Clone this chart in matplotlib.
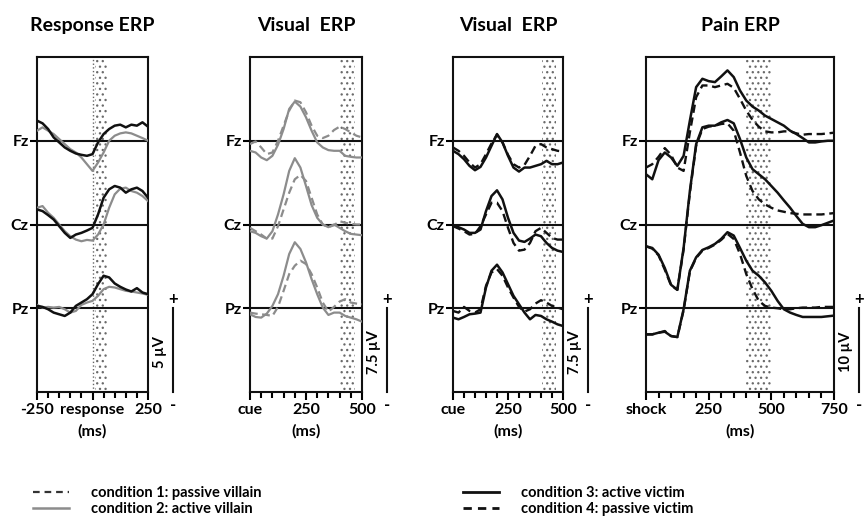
import matplotlib

matplotlib.use("Agg")
import matplotlib.pyplot as plt
import matplotlib.transforms as mtransforms
from matplotlib.lines import Line2D
from matplotlib.ticker import MultipleLocator

plt.rcParams["font.family"] = ["Lato", "DejaVu Sans"]
plt.rcParams["font.weight"] = "bold"
plt.rcParams["hatch.linewidth"] = 0.9

# ---- time axes (ms) ----
t_resp = list(range(-250, 251, 25))
t_vis = list(range(0, 501, 25))
t_pain = list(range(0, 751, 25))

# ---- panel 1: response ERP (uV) ----
resp_fz_black = [1.2, 1.04, 0.7, 0.2, -0.1, -0.4, -0.6, -0.76, -0.84, -0.9, -0.8,
                 -0.1, 0.4, 0.7, 0.9, 0.96, 0.8, 0.96, 0.9, 1.1, 0.84]
resp_fz_gray = [0.6, 0.8, 0.6, 0.4, 0.1, -0.2, -0.5, -0.7, -1.0, -1.4, -1.8,
                -1.3, -0.7, 0.0, 0.3, 0.44, 0.5, 0.44, 0.3, 0.16, 0.0]
resp_cz_black = [0.9, 0.8, 0.56, 0.3, -0.1, -0.5, -0.8, -0.6, -0.5, -0.36, -0.2,
                 0.6, 1.6, 2.1, 2.3, 2.2, 1.9, 2.1, 2.2, 2.0, 1.6]
resp_cz_gray = [1.0, 1.1, 0.7, 0.4, 0.0, -0.4, -0.7, -0.9, -1.0, -0.92, -0.96,
                -0.6, 0.0, 1.0, 1.8, 2.14, 2.2, 2.0, 1.9, 1.7, 1.4]
resp_pz_black = [0.14, 0.08, -0.06, -0.26, -0.36, -0.46, -0.26, 0.14, 0.34, 0.54, 0.84,
                 1.44, 1.94, 1.84, 1.48, 1.28, 1.12, 1.0, 1.2, 0.94, 0.84]
resp_pz_gray = [0.2, 0.04, 0.08, 0.04, 0.08, -0.06, -0.26, -0.16, 0.2, 0.34, 0.44,
                0.74, 1.14, 1.28, 1.24, 1.14, 1.04, 1.0, 0.94, 0.88, 0.8]

# ---- panel 2: visual ERP, villain conditions (uV) ----
vis1_fz_solid = [-0.9, -1.05, -1.5, -1.74, -1.35, -0.36, 1.05, 2.85, 3.51, 3.06, 2.1,
                 0.9, -0.15, -0.6, -0.84, -0.9, -0.9, -1.35, -1.44, -1.5, -1.5]
vis1_fz_dash = [-0.3, -0.06, -0.6, -1.2, -1.05, 0.0, 1.35, 2.7, 3.6, 3.45, 2.55,
                1.35, 0.45, 0.24, 0.45, 0.96, 1.26, 1.05, 0.75, 0.45, 0.3]
vis1_cz_solid = [-0.6, -0.75, -1.05, -1.26, -0.6, 0.9, 2.7, 4.8, 5.94, 5.1, 3.45,
                 1.74, 0.6, 0.0, -0.24, 0.0, -0.3, -0.6, -0.84, -0.9, -0.96]
vis1_cz_dash = [-0.3, -0.6, -0.9, -1.26, -1.26, -0.15, 1.35, 2.85, 4.05, 4.44, 3.9,
                2.4, 0.9, 0.0, -0.24, -0.06, 0.3, 0.15, 0.06, 0.0, 0.0]
vis1_pz_solid = [-0.54, -0.78, -0.84, -0.48, 0.21, 1.26, 2.91, 4.86, 5.91, 5.31, 4.11,
                 2.61, 1.26, 0.06, -0.6, -0.39, -0.39, -0.69, -0.84, -0.99, -1.2]
vis1_pz_dash = [-0.39, -0.48, -0.54, -0.6, -0.69, 0.12, 1.56, 3.06, 3.81, 4.26, 3.96,
                3.06, 1.86, 0.51, -0.3, 0.12, 0.6, 0.81, 0.51, 0.42, 0.36]

# ---- panel 3: visual ERP, victim conditions (uV) ----
vis2_fz_solid = [-0.9, -1.2, -1.65, -2.25, -2.64, -2.34, -1.5, -0.45, 0.6, -0.15, -1.35,
                 -2.4, -2.76, -2.4, -2.4, -2.25, -2.1, -1.8, -2.1, -2.1, -1.95]
vis2_fz_dash = [-0.6, -0.9, -1.35, -1.95, -2.4, -2.1, -1.2, -0.24, 0.54, -0.15, -1.26,
                -2.1, -2.4, -2.16, -1.35, -0.45, -0.3, -0.6, -0.75, -0.9, -0.96]
vis2_cz_solid = [-0.15, -0.24, -0.45, -0.75, -0.75, -0.45, 1.2, 2.55, 3.06, 2.25, 0.6,
                 -0.75, -1.44, -1.56, -1.26, -0.9, -1.05, -1.65, -2.1, -2.34, -2.46]
vis2_cz_dash = [-0.15, -0.36, -0.6, -0.9, -0.84, -0.15, 0.9, 1.95, 1.95, 1.2, -0.3,
                -1.65, -2.34, -2.25, -1.65, -0.6, -0.3, -0.75, -1.2, -1.35, -1.35]
vis2_pz_solid = [-0.84, -0.99, -0.78, -0.54, -0.48, -0.39, 1.86, 3.36, 3.9, 3.21, 2.16,
                 1.11, 0.36, -0.39, -0.99, -0.6, -0.69, -0.99, -1.2, -1.44, -1.59]
vis2_pz_dash = [-0.24, -0.39, 0.12, -0.24, -0.39, -0.09, 2.01, 3.21, 3.51, 2.91, 1.86,
                0.96, 0.12, -0.3, -0.09, 0.42, 0.72, 0.51, 0.21, 0.06, -0.09]

# ---- panel 4: pain ERP (uV) ----
pain_fz_solid = [-4.0, -4.6, -2.32, -1.4, -2.0, -3.0, -1.8, 2.4, 6.4, 7.4, 7.12, 7.0,
                 7.68, 8.4, 7.6, 6.0, 4.8, 4.08, 3.6, 3.0, 2.6, 2.2, 1.8, 1.2, 0.8,
                 0.32, -0.2, -0.2, -0.08, 0.0, 0.0]
pain_fz_dash = [-3.2, -2.8, -1.92, -0.88, -1.68, -3.2, -3.6, 1.0, 5.2, 6.6, 6.6, 6.4,
                6.6, 6.8, 6.32, 5.0, 3.6, 2.48, 1.68, 1.12, 1.0, 1.0, 1.12, 1.12, 0.88,
                0.72, 0.8, 0.8, 0.8, 0.88, 0.96]
pain_cz_solid = [-2.6, -2.8, -3.6, -5.2, -7.2, -7.8, -2.8, 4.0, 9.6, 11.6, 11.8, 11.8,
                 12.2, 12.48, 12.08, 10.2, 8.0, 6.6, 6.0, 5.4, 4.6, 3.8, 2.88, 2.0, 1.0,
                 0.08, -0.32, -0.32, -0.08, 0.2, 0.48]
pain_cz_dash = [-2.6, -2.88, -3.68, -5.4, -7.28, -7.8, -3.0, 3.8, 9.4, 11.4, 11.68, 11.8,
                12.0, 12.08, 11.2, 8.6, 5.8, 4.0, 3.0, 2.4, 2.0, 1.68, 1.52, 1.36, 1.28,
                1.2, 1.2, 1.2, 1.2, 1.28, 1.36]
pain_pz_solid = [-3.12, -3.12, -2.92, -2.8, -3.32, -3.44, -0.12, 4.48, 6.08, 6.96, 7.28,
                 7.68, 8.28, 9.08, 8.68, 7.2, 5.68, 4.48, 3.88, 3.08, 2.08, 0.88, -0.12,
                 -0.52, -0.8, -1.04, -1.04, -1.04, -1.04, -0.96, -0.88]
pain_pz_dash = [-3.12, -3.12, -2.92, -2.72, -3.32, -3.44, -0.24, 4.4, 6.0, 6.88, 7.2,
                7.6, 8.16, 8.88, 8.28, 6.48, 4.08, 2.28, 0.88, 0.28, 0.08, 0.0, -0.12,
                -0.12, 0.0, 0.08, 0.08, 0.08, 0.16, 0.16, 0.16]

CHANNELS = ["Fz", "Cz", "Pz"]
BLACK = "#111111"
GRAY = "#8c8c8c"

solid_black = dict(color=BLACK, lw=1.8, ls="-")
solid_gray = dict(color=GRAY, lw=1.6, ls="-")
dash_gray = dict(color=GRAY, lw=1.6, ls=(0, (3.5, 2)))
dash_black = dict(color=BLACK, lw=1.7, ls=(0, (3.5, 2)))

panels = [
    dict(title="Response ERP", t=t_resp, xlim=(-250, 250), step=5.0,
         ticks=[-250, 0, 250], labels=["-250", "response", "250"],
         span=(10, 65), scale="5 µV", marker_line=0,
         traces=[(resp_fz_gray, resp_cz_gray, resp_pz_gray, solid_gray),
                 (resp_fz_black, resp_cz_black, resp_pz_black, solid_black)]),
    dict(title="Visual  ERP", t=t_vis, xlim=(0, 500), step=7.5,
         ticks=[0, 250, 500], labels=["cue", "250", "500"],
         span=(400, 470), scale="7.5 µV", marker_line=None,
         traces=[(vis1_fz_dash, vis1_cz_dash, vis1_pz_dash, dash_gray),
                 (vis1_fz_solid, vis1_cz_solid, vis1_pz_solid, solid_gray)]),
    dict(title="Visual  ERP", t=t_vis, xlim=(0, 500), step=7.5,
         ticks=[0, 250, 500], labels=["cue", "250", "500"],
         span=(405, 470), scale="7.5 µV", marker_line=None,
         traces=[(vis2_fz_dash, vis2_cz_dash, vis2_pz_dash, dash_black),
                 (vis2_fz_solid, vis2_cz_solid, vis2_pz_solid, solid_black)]),
    dict(title="Pain ERP", t=t_pain, xlim=(0, 750), step=10.0,
         ticks=[0, 250, 500, 750], labels=["shock", "250", "500", "750"],
         span=(400, 500), scale="10 µV", marker_line=None,
         traces=[(pain_fz_dash, pain_cz_dash, pain_pz_dash, dash_black),
                 (pain_fz_solid, pain_cz_solid, pain_pz_solid, solid_black)]),
]

# axes boxes in pixels: left, right (figure is 864 x 522)
boxes = [(37, 148), (250, 362), (453, 563), (646, 834)]
TOP, BOTTOM = 57, 392
W, H = 864, 522

fig = plt.figure(figsize=(8.64, 5.22), dpi=100)

for p, (x0, x1) in zip(panels, boxes):
    ax = fig.add_axes([x0 / W, 1 - BOTTOM / H, (x1 - x0) / W, (BOTTOM - TOP) / H])
    s = p["step"]
    offsets = [s, 0.0, -s]

    ax.axvspan(*p["span"], facecolor="none", edgecolor="#6a6a6a",
               hatch="...", lw=0, zorder=1)
    if p["marker_line"] is not None:
        ax.axvline(p["marker_line"], color="#666666", lw=1.0, ls=":", zorder=1)
    for off in offsets:
        ax.axhline(off, color=BLACK, lw=1.5, zorder=2)

    for fz, cz, pz, style in p["traces"]:
        for vals, off in zip((fz, cz, pz), offsets):
            ax.plot(p["t"], [v + off for v in vals], zorder=3, **style)

    ax.set_xlim(*p["xlim"])
    ax.set_ylim(-2 * s, 2 * s)
    ax.set_xticks(p["ticks"])
    ax.set_xticklabels(p["labels"], fontsize=11.5, fontweight="bold")
    ax.xaxis.set_minor_locator(MultipleLocator(50))
    ax.set_yticks(offsets)
    ax.set_yticklabels(CHANNELS, fontsize=11.5, fontweight="bold")
    ax.tick_params(axis="x", which="major", direction="out", length=6, width=1.5, pad=2)
    ax.tick_params(axis="x", which="minor", direction="out", length=4, width=1.5)
    ax.tick_params(axis="y", direction="out", length=5, width=1.5, pad=1)
    for sp in ax.spines.values():
        sp.set_linewidth(1.5)
        sp.set_color(BLACK)
    ax.set_title(p["title"], fontsize=14, fontweight="bold", pad=19)
    ax.set_xlabel("(ms)", fontsize=11.5, fontweight="bold", labelpad=5)

    # amplitude scale bar to the right of the panel
    width_px = x1 - x0
    tr = mtransforms.blended_transform_factory(ax.transAxes, ax.transData)
    bx = 1 + 25 / width_px
    ax.plot([bx, bx], [-2 * s, -s], color=BLACK, lw=1.5, transform=tr, clip_on=False)
    ax.text(bx, -s + 0.02 * s, "+", transform=tr, ha="center", va="bottom",
            fontsize=12, fontweight="bold")
    ax.text(bx, -2 * s - 0.06 * s, "-", transform=tr, ha="center", va="top",
            fontsize=12, fontweight="bold")
    ax.text(1 + 12 / width_px, -1.52 * s, p["scale"], transform=tr, rotation=90,
            ha="center", va="center", fontsize=10.5, fontweight="bold")

# legend
left_handles = [
    Line2D([], [], color="#333333", lw=1.6, ls=(0, (3, 2.2))),
    Line2D([], [], color=GRAY, lw=1.8),
]
right_handles = [
    Line2D([], [], color=BLACK, lw=2.0),
    Line2D([], [], color=BLACK, lw=2.0, ls=(0, (3, 2.2))),
]
leg_kw = dict(frameon=False, fontsize=10.5, handlelength=2.5, handletextpad=1.5,
              labelspacing=0.12, borderaxespad=0, borderpad=0)
fig.legend(left_handles, ["condition 1: passive villain", "condition 2: active villain"],
           loc="upper left", bbox_to_anchor=(33 / W, 1 - 486 / H), **leg_kw)
fig.legend(right_handles, ["condition 3: active victim", "condition 4: passive victim"],
           loc="upper left", bbox_to_anchor=(463 / W, 1 - 486 / H), **leg_kw)

fig.savefig("out.png", dpi=100, facecolor="white")
